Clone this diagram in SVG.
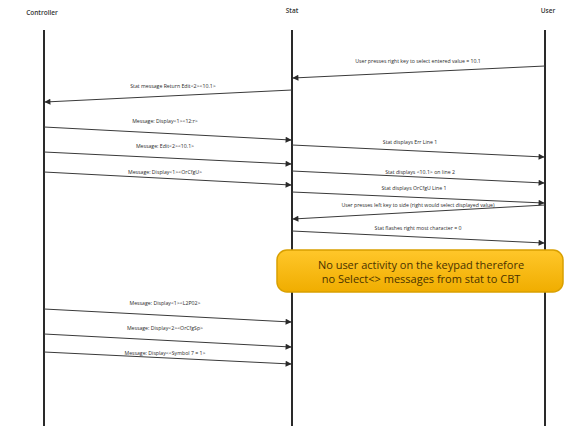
<svg xmlns="http://www.w3.org/2000/svg" width="568" height="431" viewBox="0 0 568 431">
  <style>
    .head { font-family: "Open Sans", "Liberation Sans", sans-serif; font-size: 6.5px; font-weight: 600; fill: #333; text-anchor: middle; }
    .life { stroke: #2a2a2a; stroke-width: 2; }
    .msg { stroke: #3a3a3a; stroke-width: 1; fill: none; marker-end: url(#arr); }
    .lbl { font-family: "Open Sans", "Liberation Sans", sans-serif; font-size: 5.2px; fill: #2a2a2a; text-anchor: middle; }
    .note { font-family: "Open Sans", "Liberation Sans", sans-serif; font-size: 11px; fill: #4a3300; text-anchor: middle; }
  </style>
  <defs>
    <marker id="arr" viewBox="0 0 10 10" refX="9" refY="5" markerWidth="7" markerHeight="6" markerUnits="userSpaceOnUse" orient="auto">
      <path d="M0,0 L10,5 L0,10 z" fill="#2a2a2a"/>
    </marker>
    <linearGradient id="gold" x1="0" y1="0" x2="0" y2="1">
      <stop offset="0" stop-color="#ffc72a"/>
      <stop offset="1" stop-color="#f0ad00"/>
    </linearGradient>
  </defs>
  <rect width="568" height="431" fill="#ffffff"/>

  <g id="controller">
    <text class="head" x="42" y="15">Controller</text>
    <line class="life" x1="44" y1="30" x2="44" y2="426"/>
  </g>
  <g id="stat">
    <text class="head" x="292" y="13">Stat</text>
    <line class="life" x1="292" y1="30" x2="292" y2="426"/>
  </g>
  <g id="user">
    <text class="head" x="548" y="13">User</text>
    <line class="life" x1="545" y1="30" x2="545" y2="426"/>
  </g>

  <g id="connectors">
    <line class="msg" x1="545" y1="66" x2="293" y2="78"/>
    <text class="lbl" x="418" y="63">User presses right key to select entered value = 10.1</text>

    <line class="msg" x1="292" y1="90" x2="45" y2="102"/>
    <text class="lbl" x="173" y="88">Stat message Return Edit&lt;2&gt;&lt;10.1&gt;</text>

    <line class="msg" x1="44" y1="127" x2="291" y2="140"/>
    <text class="lbl" x="165" y="123">Message: Display&lt;1&gt;&lt;12:r&gt;</text>

    <line class="msg" x1="44" y1="152" x2="291" y2="164"/>
    <text class="lbl" x="165" y="148">Message: Edit&lt;2&gt;&lt;10.1&gt;</text>

    <line class="msg" x1="44" y1="172" x2="291" y2="185"/>
    <text class="lbl" x="165" y="174">Message: Display&lt;1&gt;&lt;OrCfgU&gt;</text>

    <line class="msg" x1="292" y1="145" x2="544" y2="157"/>
    <text class="lbl" x="410" y="144">Stat displays Err Line 1</text>

    <line class="msg" x1="292" y1="171" x2="544" y2="183"/>
    <text class="lbl" x="420" y="174">Stat displays &lt;10.1&gt; on line 2</text>

    <line class="msg" x1="292" y1="192" x2="544" y2="203"/>
    <text class="lbl" x="414" y="190">Stat displays OrCfgU Line 1</text>

    <line class="msg" x1="545" y1="205" x2="293" y2="219"/>
    <text class="lbl" x="418" y="207">User presses left key to side (right would select displayed value)</text>

    <line class="msg" x1="292" y1="231" x2="544" y2="243"/>
    <text class="lbl" x="418" y="230">Stat flashes right most character = 0</text>

    <line class="msg" x1="44" y1="309" x2="291" y2="322"/>
    <text class="lbl" x="165" y="305">Message: Display&lt;1&gt;&lt;L2P02&gt;</text>

    <line class="msg" x1="44" y1="334" x2="291" y2="347"/>
    <text class="lbl" x="165" y="330">Message: Display&lt;2&gt;&lt;OrCfgSp&gt;</text>

    <line class="msg" x1="44" y1="352" x2="291" y2="364"/>
    <text class="lbl" x="165" y="355">Message: Display&lt;&lt;Symbol 7 = 1&gt;</text>
  </g>

  <g id="note">
    <rect x="277" y="250" width="286" height="42" rx="10" ry="10" fill="url(#gold)" stroke="#d9a000" stroke-width="1.5"/>
    <text class="note" x="421" y="269">No user activity on the keypad therefore</text>
    <text class="note" x="421" y="283">no Select&lt;&gt; messages from stat to CBT</text>
  </g>
</svg>
